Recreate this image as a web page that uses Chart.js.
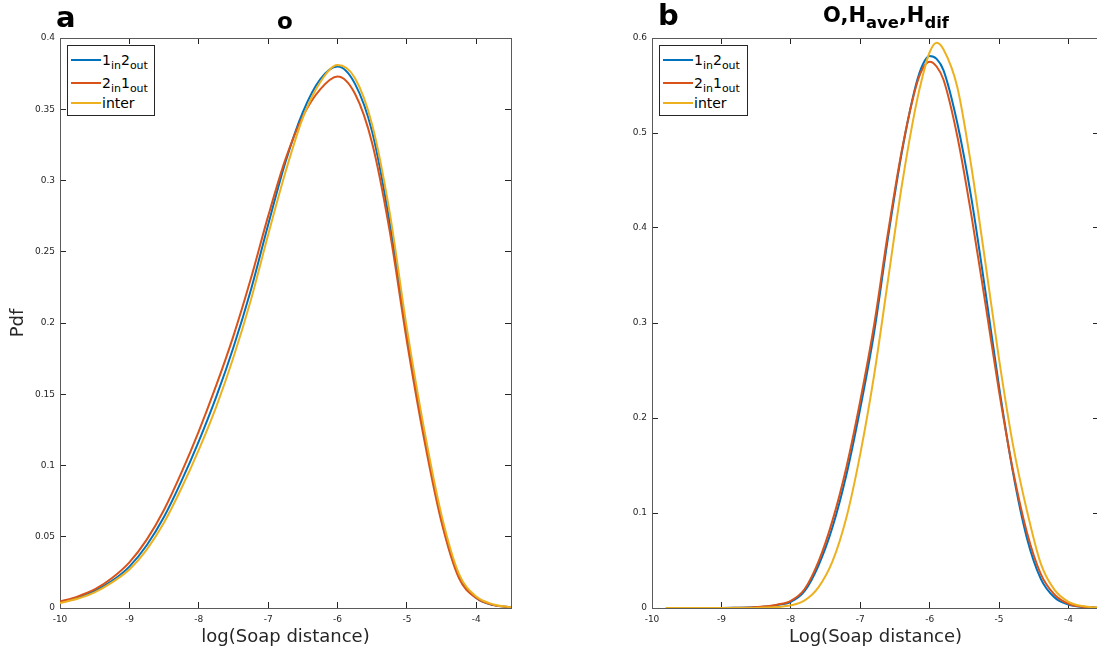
<!DOCTYPE html>
<html>
<head>
<meta charset="utf-8">
<script src="https://cdn.jsdelivr.net/npm/chart.js@4.4.1/dist/chart.umd.min.js"></script>
<style>
    html, body { margin: 0; padding: 0; background: #fff; }
    body { width: 1097px; height: 651px; overflow: hidden; position: relative; font-family: 'DejaVu Sans', sans-serif; color: #000; }
    canvas { position: absolute; top: 0; }
    #cv-a { left: 0; }
    #cv-b { left: 600px; }
    .panel-tag { position: absolute; font-weight: bold; font-size: 29px; line-height: 1; }
    .title { position: absolute; font-weight: bold; line-height: 1; text-align: center; }
    .title sub { font-size: 78%; vertical-align: -0.35em; line-height: 0; }
    .legend { position: absolute; background: #fff; border: 1px solid #262626; box-sizing: border-box; }
    .legend .row { position: absolute; left: 0; height: 20px; width: 100%; }
    .legend .swatch { position: absolute; left: 3px; top: 9px; width: 30px; height: 2px; }
    .legend .lbl { position: absolute; left: 34px; top: 0; font-size: 14px; line-height: 20px; color: #000; white-space: nowrap; }
    .legend .lbl sub { font-size: 11px; vertical-align: -0.35em; line-height: 0; }
</style>
</head>
<body>
<canvas id="cv-a" width="540" height="651"></canvas>
<canvas id="cv-b" width="520" height="651"></canvas>

<div class="panel-tag" style="left:56px; top:3px;">a</div>
<div class="title" style="left:235px; width:100px; top:10px; font-size:23px;">o</div>
<div class="panel-tag" style="left:658px; top:1px;">b</div>
<div class="title" style="left:786px; width:200px; top:5px; font-size:21px;">O,H<sub>ave</sub>,H<sub>dif</sub></div>

<div class="legend" id="leg-a" style="left:67px; top:45px; width:88px; height:71px;"></div>
<div class="legend" id="leg-b" style="left:659px; top:45px; width:89px; height:71px;"></div>

<script>
'use strict';

// ── Data ──────────────────────────────────────────────────────────────────────

const SERIES_NAMES = ['1<sub>in</sub>2<sub>out</sub>', '2<sub>in</sub>1<sub>out</sub>', 'inter'];
const SERIES_COLORS = ['#0072BD', '#D95319', '#EDB120'];

// panel a: "o"
const A_X = [-10, -9.75, -9.5, -9.25, -9, -8.75, -8.5, -8.25, -8, -7.75, -7.5, -7.25, -7,
    -6.75, -6.5, -6.25, -6, -5.75, -5.5, -5.25, -5, -4.75, -4.5, -4.25, -4, -3.75, -3.5];
const A_1IN2OUT = [0.004, 0.007, 0.012, 0.019, 0.029, 0.044, 0.064, 0.089, 0.117, 0.148, 0.183, 0.223, 0.269,
    0.313, 0.348, 0.371, 0.380, 0.368, 0.334, 0.271, 0.191, 0.122, 0.062, 0.022, 0.007, 0.002, 0.0005];
const A_2IN1OUT = [0.0045, 0.008, 0.013, 0.021, 0.032, 0.048, 0.069, 0.095, 0.124, 0.156, 0.191, 0.231, 0.275,
    0.315, 0.345, 0.364, 0.373, 0.361, 0.326, 0.265, 0.187, 0.118, 0.060, 0.021, 0.007, 0.002, 0.0005];
const A_INTER = [0.0035, 0.0065, 0.011, 0.018, 0.027, 0.041, 0.060, 0.084, 0.111, 0.141, 0.176, 0.216, 0.262,
    0.306, 0.344, 0.369, 0.381, 0.372, 0.339, 0.278, 0.196, 0.125, 0.065, 0.024, 0.008, 0.0025, 0.0005];

// panel b: "O,Have,Hdif"
const B_X = [-9.8, -9.6, -9.4, -9.2, -9, -8.8, -8.6, -8.4, -8.2, -8, -7.8, -7.6, -7.4, -7.2, -7,
    -6.8, -6.6, -6.4, -6.2, -6.1, -6, -5.9, -5.8, -5.6, -5.4, -5.2, -5, -4.8, -4.6, -4.4, -4.2, -4, -3.8, -3.6, -3.4];
const B_1IN2OUT = [0, 0, 0, 0, 0, 0.0002, 0.0005, 0.0012, 0.003, 0.0065, 0.018, 0.045, 0.085, 0.140, 0.210,
    0.290, 0.390, 0.480, 0.550, 0.572, 0.581, 0.578, 0.566, 0.510, 0.432, 0.335, 0.233, 0.143, 0.074, 0.031, 0.011, 0.0035, 0.001, 0.0003, 0];
const B_2IN1OUT = [0, 0, 0, 0, 0, 0.0002, 0.0006, 0.0015, 0.0035, 0.0075, 0.020, 0.049, 0.092, 0.148, 0.218,
    0.298, 0.395, 0.482, 0.548, 0.568, 0.575, 0.570, 0.556, 0.496, 0.414, 0.322, 0.228, 0.145, 0.080, 0.036, 0.014, 0.0045, 0.0012, 0.0003, 0];
const B_INTER = [0, 0, 0, 0, 0, 0, 0, 0.0004, 0.001, 0.0028, 0.008, 0.022, 0.049, 0.095, 0.162,
    0.245, 0.345, 0.445, 0.528, 0.560, 0.585, 0.595, 0.588, 0.548, 0.465, 0.365, 0.262, 0.172, 0.103, 0.047, 0.019, 0.0065, 0.002, 0.0005, 0];

const X_TICKS = [-10, -9, -8, -7, -6, -5, -4];
const X_TICK_LABELS = ['-10', '-9', '-8', '-7', '-6', '-5', '-4'];
const A_Y_TICKS = [0, 0.05, 0.1, 0.15, 0.2, 0.25, 0.3, 0.35, 0.4];
const A_Y_TICK_LABELS = ['0', '0.05', '0.1', '0.15', '0.2', '0.25', '0.3', '0.35', '0.4'];
const B_Y_TICKS = [0, 0.1, 0.2, 0.3, 0.4, 0.5, 0.6];
const B_Y_TICK_LABELS = ['0', '0.1', '0.2', '0.3', '0.4', '0.5', '0.6'];

// ── Chart helpers ─────────────────────────────────────────────────────────────

const FONT = 'DejaVu Sans';
const INK = '#262626';
const FRAME = '#5a5a5a';
const TICK_LEN = -6;

function fixedTicks(values) {
    return scale => { scale.ticks = values.map(v => ({ value: v })); };
}

function frameAxis(position, min, max, tickValues, size, extra) {
    const horizontal = position === 'top' || position === 'bottom';
    return Object.assign({
        type: 'linear',
        position,
        min,
        max,
        afterBuildTicks: fixedTicks(tickValues),
        afterFit(scale) {
            if (horizontal) scale.height = size; else scale.width = size;
        },
        border: { display: true, color: FRAME, width: 1 },
        grid: { drawOnChartArea: false, drawTicks: true, tickLength: TICK_LEN, color: INK, lineWidth: 1 },
        ticks: { display: false },
    }, extra);
}

function buildChart(canvasId, p) {
    const datasets = p.series.map((ys, i) => ({
        label: SERIES_NAMES[i],
        data: p.xs.map((x, k) => ({ x, y: ys[k] })),
        borderColor: SERIES_COLORS[i],
        borderWidth: 2,
        pointRadius: 0,
        fill: false,
        cubicInterpolationMode: 'monotone',
        order: 3 - i,
    }));

    return new Chart(document.getElementById(canvasId), {
        type: 'line',
        data: { datasets },
        options: {
            responsive: false,
            animation: false,
            events: [],
            layout: { padding: 0 },
            plugins: { legend: { display: false }, tooltip: { enabled: false }, title: { display: false } },
            scales: {
                x: frameAxis('bottom', -10, p.xMax, X_TICKS, 43, {
                    ticks: {
                        display: true, autoSkip: false, maxRotation: 0, padding: 12, color: INK,
                        font: { family: FONT, size: 9 },
                        callback: (v, i) => X_TICK_LABELS[i],
                    },
                    title: {
                        display: true, text: p.xTitle, color: INK,
                        font: { family: FONT, size: 18 }, padding: { top: 0, bottom: 3 },
                    },
                }),
                x2: frameAxis('top', -10, p.xMax, X_TICKS, 38),
                y: frameAxis('left', 0, p.yMax, p.yTicks, p.leftWidth, {
                    ticks: {
                        display: true, autoSkip: false, padding: 11, color: INK,
                        font: { family: FONT, size: 9 },
                        callback: (v, i) => p.yLabels[i],
                    },
                    title: p.yTitle ? {
                        display: true, text: p.yTitle, color: INK,
                        font: { family: FONT, size: 18 }, padding: { top: 8, bottom: 0 },
                    } : { display: false },
                }),
                y2: frameAxis('right', 0, p.yMax, p.yTicks, p.rightWidth),
            },
        },
    });
}

function buildLegend(id) {
    const box = document.getElementById(id);
    const tops = [4, 27, 47];
    SERIES_NAMES.forEach((name, i) => {
        const row = document.createElement('div');
        row.className = 'row';
        row.style.top = tops[i] + 'px';
        row.innerHTML = '<div class="swatch" style="background:' + SERIES_COLORS[i] + '"></div>' +
            '<div class="lbl">' + name + '</div>';
        box.appendChild(row);
    });
}

// ── Bootstrap ─────────────────────────────────────────────────────────────────

buildChart('cv-a', {
    xs: A_X,
    series: [A_1IN2OUT, A_2IN1OUT, A_INTER],
    xMax: -3.5,
    yMax: 0.4,
    yTicks: A_Y_TICKS,
    yLabels: A_Y_TICK_LABELS,
    xTitle: 'log(Soap distance)',
    yTitle: 'Pdf',
    leftWidth: 60,
    rightWidth: 29,
});

buildChart('cv-b', {
    xs: B_X,
    series: [B_1IN2OUT, B_2IN1OUT, B_INTER],
    xMax: -3.56,
    yMax: 0.6,
    yTicks: B_Y_TICKS,
    yLabels: B_Y_TICK_LABELS,
    xTitle: 'Log(Soap distance)',
    yTitle: null,
    leftWidth: 52,
    rightWidth: 21,
});

buildLegend('leg-a');
buildLegend('leg-b');
</script>
</body>
</html>
